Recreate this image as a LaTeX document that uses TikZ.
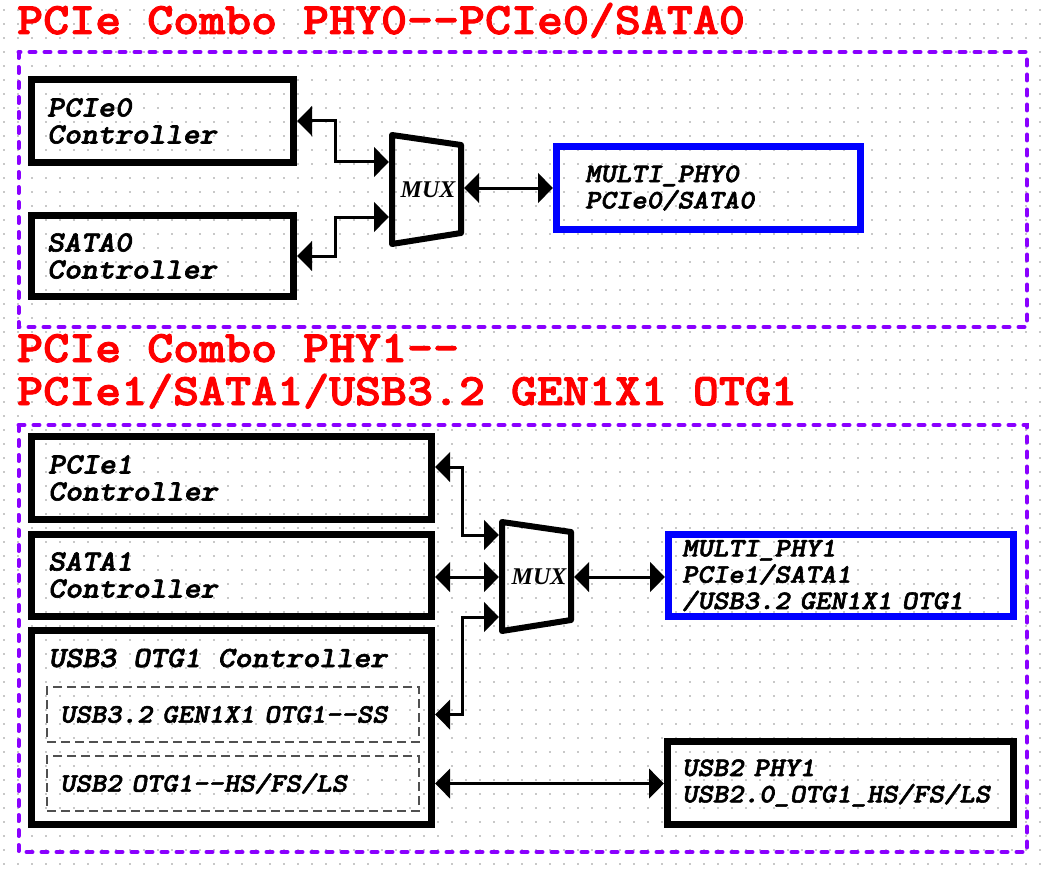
\documentclass[tikz,border=0pt]{standalone}
\usepackage{fontspec}
\usepackage{graphicx}
\usetikzlibrary{arrows.meta,calc}
\newfontfamily\lserif{Liberation Serif}
\newfontfamily\cmonob[Extension=.otf,FakeBold=2]{lmmonolt10-bold}
\newfontfamily\cmonoi[Extension=.otf,FakeBold=2]{lmmonolt10-boldoblique}
\newcommand\ddash{-\kern0pt-}
\newcommand\wx[1]{\scalebox{1.1}[1]{#1}}
\definecolor{violetline}{HTML}{8A00FF}
\definecolor{phyblue}{HTML}{0000FF}
\definecolor{titlered}{HTML}{FF0000}
\definecolor{griddot}{HTML}{C8C8C8}
\definecolor{innergray}{HTML}{505050}
\begin{document}
\begin{tikzpicture}[x=0.75pt,y=-0.75pt,
  title/.style={anchor=base west, inner sep=0pt, text=titlered, font=\cmonob\fontsize{33.75}{33.75}\selectfont},
  group/.style={draw=violetline, line width=3pt, dash pattern=on 4.5pt off 6.75pt, line cap=round},
  box/.style={draw=black, line width=5.25pt, rectangle, align=left, inner ysep=0pt, font=\cmonoi\fontsize{22}{20.25}\selectfont},
  phybox/.style={draw=black, line width=5.25pt, rectangle, align=left, inner ysep=0pt, font=\cmonoi\fontsize{20}{19.75}\selectfont},
  bluebox/.style={phybox, draw=phyblue},
  subbox/.style={draw=innergray, line width=1.1pt, dash pattern=on 6.75pt off 3.75pt, rectangle, align=left, inner ysep=0pt, font=\cmonoi\fontsize{20}{19.75}\selectfont},
  muxline/.style={draw=black, line width=4.5pt, line join=round},
  muxtext/.style={inner sep=0pt, font=\lserif\bfseries\itshape\fontsize{18}{18}\selectfont},
  dbl/.style={draw=black, line width=2.25pt, {Triangle[length=11.25pt,width=22pt]}-{Triangle[length=11.25pt,width=22pt]}}
]
\useasboundingbox (0,0) rectangle (1045,870);
\fill[white] (0,0) rectangle (1045,870);
% dotted grid
\foreach \i in {0,...,74} {
  \foreach \j in {0,...,61} {
    \fill[griddot] ({4+14*\i-0.7},{10+14*\j-0.7}) rectangle ++(1.4,1.4);
  }
}
% titles
\node[title] (t0) at (17,34) {\wx{PCIe Combo PHY0\ddash PCIe0/SATA0}};
\node[title] (t1a) at (17,362) {\wx{PCIe Combo PHY1\ddash}};
\node[title] (t1b) at (17,405) {\wx{PCIe1/SATA1/USB3.2 GEN1X1 OTG1}};
% group frames
\draw[group] (18.5,52) rectangle (1027,327);
\draw[group] (18.5,425) rectangle (1027,852);

% ---- section 0
\node[box, minimum width=196.5pt, minimum height=62.25pt, inner xsep=11.625pt, text width=173.25pt] (pcie0) at (162.5,121) {\wx{PCIe0}\\\wx{Controller}};
\node[box, minimum width=196.5pt, minimum height=60.75pt, inner xsep=11.625pt, text width=173.25pt] (sata0) at (162.5,256) {\wx{SATA0}\\\wx{Controller}};
\node[bluebox, minimum width=228pt, minimum height=62.25pt, inner xsep=21.375pt, text width=185.25pt] (phy0) at (708.5,188) {\wx{MULTI\_PHY0}\\\wx{PCIe0/SATA0}};
\draw[muxline] (392,135) -- (461,145) -- (461,233) -- (392,244) -- cycle;
\node[muxtext] (mux0) at (428,190) {MUX};
\coordinate (m0i1) at (389,162);
\coordinate (m0i2) at (389,217);
\coordinate (m0o) at (464,188);
\draw[dbl] (pcie0.east) -| ([xshift=-40.5pt]m0i1) -- (m0i1);
\draw[dbl] (sata0.east) -| ([xshift=-40.5pt]m0i2) -- (m0i2);
\draw[dbl] (m0o) -- (m0o -| phy0.west);

% ---- section 1
\node[box, minimum width=300pt, minimum height=62.25pt, inner xsep=12.375pt, text width=275.25pt] (pcie1) at (231.5,478) {\wx{PCIe1}\\\wx{Controller}};
\node[box, minimum width=300pt, minimum height=61.5pt, inner xsep=12.375pt, text width=275.25pt] (sata1) at (231.5,575) {\wx{SATA1}\\\wx{Controller}};
\node[box, minimum width=300pt, minimum height=145.5pt, inner sep=0pt] (usb3) at (231.5,727.5) {};
\node[anchor=base west, inner sep=0pt, font=\cmonoi\fontsize{22}{20.25}\selectfont] (usb3t) at (48,667) {\wx{USB3 OTG1 Controller}};
\node[subbox, minimum width=279pt, minimum height=41.25pt, inner xsep=9.75pt, text width=259.5pt] (ss) at (233,714.5) {\wx{USB3.2 GEN1X1 OTG1\ddash SS}};
\node[subbox, minimum width=279pt, minimum height=41.25pt, inner xsep=9.75pt, text width=259.5pt] (hs) at (233,783.5) {\wx{USB2 OTG1\ddash HS/FS/LS}};
\node[bluebox, minimum width=258.75pt, minimum height=61.5pt, inner xsep=10.125pt, text width=238.5pt] (phy1) at (841,575.5) {\wx{MULTI\_PHY1}\\\wx{PCIe1/SATA1}\\\wx{/USB3.2 GEN1X1 OTG1}};
\node[phybox, minimum width=259.5pt, minimum height=62.25pt, inner xsep=10.875pt, text width=237.75pt] (usb2phy) at (840.5,783) {\wx{USB2 PHY1}\\\wx{USB2.0\_OTG1\_HS/FS/LS}};
\draw[muxline] (502,522) -- (571,532) -- (571,620) -- (502,631) -- cycle;
\node[muxtext] (mux1) at (539,577) {MUX};
\coordinate (m1i1) at (499,535);
\coordinate (m1i2) at (499,577);
\coordinate (m1i3) at (499,617);
\coordinate (m1o) at (574,577);
\draw[dbl] ([yshift=8.25pt]pcie1.east) -| ([xshift=-27.75pt]m1i1) -- (m1i1);
\draw[dbl] (sata1.east |- m1i2) -- (m1i2);
\draw[dbl] (m1i3) -- ([xshift=-27.75pt]m1i3) |- (usb3.east |- ss.east);
\draw[dbl] (m1o) -- (m1o -| phy1.west);
\draw[dbl] (usb3.east |- hs.east) -- (usb2phy.west |- hs.east);
\end{tikzpicture}
\end{document}
